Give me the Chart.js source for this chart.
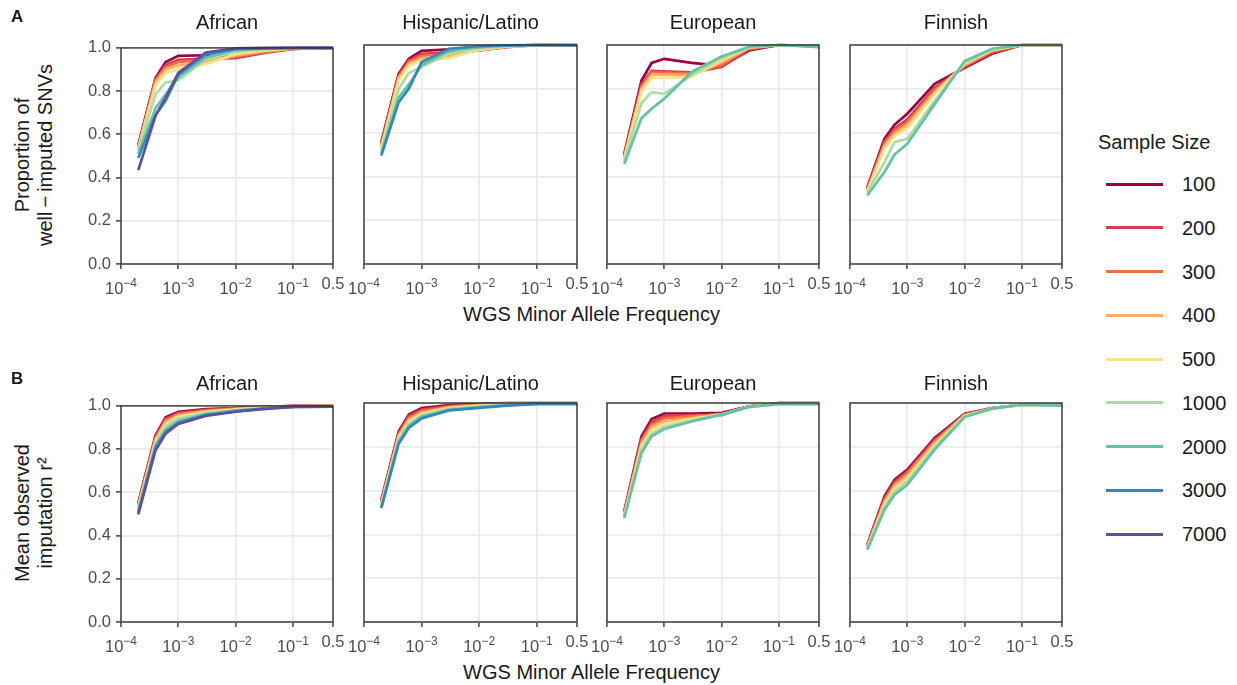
<!DOCTYPE html>
<html>
<head>
<meta charset="utf-8">
<script src="https://cdn.jsdelivr.net/npm/chart.js@4.4.1/dist/chart.umd.min.js"></script>
<style>
  body { margin: 0; background: #fff; font-family: "Liberation Sans", Arial, sans-serif; }
  #page { position: relative; width: 1237px; height: 685px; overflow: hidden; }
  canvas { position: absolute; }
  .txt { position: absolute; white-space: nowrap; color: #1a1a1a; font-size: 20px; line-height: 24px; }
  .mid { transform: translateX(-50%); }
  .ytitle { transform: translate(-50%, -50%) rotate(-90deg); text-align: center; line-height: 23px; }
  .tag { font-size: 17px; font-weight: bold; }
  .legline { position: absolute; height: 3px; width: 57px; }
</style>
</head>
<body>
<div id="page"></div>
<script>
// MAF bins (x) and sample sizes
const xMaf = [0.0002, 0.0004, 0.0006, 0.001, 0.003, 0.01, 0.03, 0.1, 0.5];
const sampleSizes = ['100', '200', '300', '400', '500', '1000', '2000', '3000', '7000'];
const sizeColors = ['#9E0142', '#D53E4F', '#F46D43', '#FDAE61', '#FEE08B', '#ABDDA4', '#66C2A5', '#3288BD', '#5E4FA2'];
const populations = ['African', 'Hispanic/Latino', 'European', 'Finnish'];
const xTickVals = [0.0001, 0.001, 0.01, 0.1, 0.5];
const xTickBase = ['10', '10', '10', '10', '0.5'];
const xTickExp = ['\u22124', '\u22123', '\u22122', '\u22121', ''];
const yTickVals = [0, 0.2, 0.4, 0.6, 0.8, 1];

// A: proportion of well-imputed SNVs (one row per sample size)
const propAfrican = [
  [0.55, 0.86, 0.935, 0.963, 0.966, 0.958, 0.98, 0.995, 1.0],
  [0.545, 0.855, 0.92, 0.945, 0.95, 0.952, 0.976, 0.995, 1.0],
  [0.54, 0.85, 0.91, 0.935, 0.945, 0.96, 0.98, 0.996, 1.0],
  [0.535, 0.84, 0.9, 0.92, 0.935, 0.965, 0.984, 0.997, 1.0],
  [0.53, 0.825, 0.885, 0.9, 0.925, 0.972, 0.988, 0.998, 1.0],
  [0.525, 0.785, 0.84, 0.85, 0.945, 0.983, 0.993, 0.999, 1.0],
  [0.51, 0.72, 0.785, 0.865, 0.955, 0.99, 0.996, 1.0, 1.0],
  [0.49, 0.69, 0.755, 0.876, 0.97, 0.995, 0.998, 1.0, 1.0],
  [0.434, 0.686, 0.77, 0.884, 0.979, 0.998, 1.0, 1.0, 1.0]
];
const propHispanic = [
  [0.557, 0.869, 0.937, 0.973, 0.98, 0.99, 0.996, 1.0, 1.0],
  [0.55, 0.86, 0.93, 0.96, 0.965, 0.975, 0.99, 0.999, 1.0],
  [0.54, 0.855, 0.922, 0.95, 0.958, 0.975, 0.991, 0.999, 1.0],
  [0.535, 0.848, 0.915, 0.94, 0.95, 0.977, 0.992, 0.999, 1.0],
  [0.53, 0.838, 0.905, 0.93, 0.94, 0.978, 0.993, 0.999, 1.0],
  [0.515, 0.8, 0.872, 0.9, 0.96, 0.985, 0.995, 1.0, 1.0],
  [0.505, 0.76, 0.82, 0.907, 0.975, 0.99, 0.997, 1.0, 1.0],
  [0.495, 0.739, 0.8, 0.922, 0.983, 0.995, 0.998, 1.0, 0.998]
];
const propEuropean = [
  [0.503, 0.838, 0.918, 0.937, 0.918, 0.905, 0.975, 1.0, 0.995],
  [0.495, 0.82, 0.882, 0.88, 0.875, 0.9, 0.98, 1.0, 0.995],
  [0.49, 0.81, 0.875, 0.873, 0.87, 0.91, 0.985, 1.0, 0.995],
  [0.485, 0.8, 0.865, 0.865, 0.862, 0.92, 0.987, 1.0, 0.995],
  [0.48, 0.79, 0.85, 0.85, 0.855, 0.93, 0.99, 1.0, 0.995],
  [0.47, 0.735, 0.785, 0.777, 0.862, 0.94, 0.99, 1.0, 0.993],
  [0.457, 0.666, 0.709, 0.755, 0.877, 0.948, 0.992, 1.0, 0.99]
];
const propFinnish = [
  [0.35, 0.572, 0.636, 0.686, 0.823, 0.896, 0.96, 1.0, 1.0],
  [0.345, 0.56, 0.618, 0.66, 0.805, 0.9, 0.965, 1.0, 1.0],
  [0.34, 0.55, 0.607, 0.648, 0.795, 0.905, 0.97, 1.0, 1.0],
  [0.335, 0.54, 0.595, 0.635, 0.785, 0.91, 0.975, 1.0, 1.0],
  [0.33, 0.528, 0.585, 0.62, 0.775, 0.915, 0.978, 1.0, 1.0],
  [0.325, 0.465, 0.556, 0.572, 0.745, 0.92, 0.98, 1.0, 1.0],
  [0.3125, 0.42, 0.5, 0.549, 0.73, 0.927, 0.983, 1.0, 1.0]
];

// B: mean observed imputation r2
const r2African = [
  [0.551, 0.863, 0.947, 0.973, 0.985, 0.99, 0.995, 1.0, 1.0],
  [0.545, 0.857, 0.94, 0.968, 0.982, 0.989, 0.995, 0.999, 1.0],
  [0.54, 0.85, 0.932, 0.962, 0.978, 0.987, 0.994, 0.999, 1.0],
  [0.535, 0.845, 0.925, 0.955, 0.975, 0.985, 0.993, 0.998, 0.999],
  [0.53, 0.835, 0.915, 0.95, 0.972, 0.983, 0.992, 0.998, 0.999],
  [0.52, 0.825, 0.905, 0.94, 0.967, 0.98, 0.99, 0.997, 0.998],
  [0.51, 0.815, 0.89, 0.93, 0.962, 0.978, 0.988, 0.996, 0.998],
  [0.505, 0.805, 0.88, 0.922, 0.958, 0.975, 0.987, 0.995, 0.997],
  [0.498, 0.795, 0.871, 0.916, 0.954, 0.973, 0.985, 0.995, 0.997]
];
const r2Hispanic = [
  [0.558, 0.87, 0.947, 0.977, 0.99, 0.995, 0.999, 1.0, 1.0],
  [0.553, 0.862, 0.94, 0.97, 0.986, 0.993, 0.998, 1.0, 1.0],
  [0.548, 0.856, 0.932, 0.963, 0.983, 0.991, 0.997, 1.0, 1.0],
  [0.543, 0.849, 0.924, 0.957, 0.98, 0.989, 0.996, 0.999, 1.0],
  [0.538, 0.842, 0.916, 0.951, 0.977, 0.987, 0.995, 0.999, 0.999],
  [0.532, 0.833, 0.905, 0.944, 0.973, 0.984, 0.993, 0.998, 0.998],
  [0.526, 0.823, 0.895, 0.937, 0.969, 0.981, 0.99, 0.997, 0.997],
  [0.52, 0.814, 0.886, 0.93, 0.966, 0.978, 0.988, 0.995, 0.995]
];
const r2European = [
  [0.505, 0.848, 0.927, 0.952, 0.952, 0.955, 0.985, 1.0, 1.0],
  [0.5, 0.835, 0.912, 0.94, 0.945, 0.945, 0.983, 0.999, 0.999],
  [0.495, 0.825, 0.9, 0.93, 0.94, 0.948, 0.984, 0.998, 0.998],
  [0.49, 0.815, 0.89, 0.915, 0.932, 0.948, 0.984, 0.997, 0.997],
  [0.485, 0.805, 0.875, 0.905, 0.926, 0.948, 0.983, 0.996, 0.996],
  [0.48, 0.79, 0.86, 0.892, 0.92, 0.947, 0.982, 0.995, 0.995],
  [0.475, 0.772, 0.848, 0.881, 0.916, 0.947, 0.982, 0.995, 0.995]
];
const r2Finnish = [
  [0.353, 0.574, 0.65, 0.696, 0.84, 0.951, 0.977, 0.992, 0.992],
  [0.349, 0.565, 0.64, 0.688, 0.832, 0.948, 0.976, 0.992, 0.991],
  [0.346, 0.557, 0.631, 0.679, 0.825, 0.946, 0.976, 0.992, 0.991],
  [0.342, 0.548, 0.621, 0.668, 0.817, 0.944, 0.975, 0.992, 0.99],
  [0.338, 0.538, 0.61, 0.657, 0.808, 0.941, 0.975, 0.992, 0.99],
  [0.334, 0.525, 0.595, 0.642, 0.797, 0.939, 0.974, 0.992, 0.989],
  [0.33, 0.513, 0.581, 0.627, 0.787, 0.936, 0.974, 0.992, 0.988]
];

// --- layout (pixel boxes of the plotting areas)
const rows = [
  { tag: 'A', tagY: 5, stripY: 10, top: 45, bottom: 264, sets: [propAfrican, propHispanic, propEuropean, propFinnish],
    ytitle: ['Proportion of', 'well\u2009\u2212\u2009imputed SNVs'] },
  { tag: 'B', tagY: 367, stripY: 371, top: 403, bottom: 622, sets: [r2African, r2Hispanic, r2European, r2Finnish],
    ytitle: ['Mean observed', 'imputation r²'] }
];
const cols = [[121, 333], [364, 577], [607, 819], [850, 1062]];
const AXW = 50, PADR = 18, PADT = 12, AXH = 36;
const FONT = '"Liberation Sans", Arial, sans-serif';
const TICKCOL = '#4D4D4D';

const page = document.getElementById('page');

function addText(cls, text, x, y) {
  const d = document.createElement('div');
  d.className = 'txt ' + cls;
  d.textContent = text;
  d.style.left = x + 'px';
  d.style.top = y + 'px';
  page.appendChild(d);
  return d;
}

// full panel border + x tick labels with superscript exponents
const panelBox = {
  id: 'panelBox',
  afterDraw(chart) {
    const a = chart.chartArea, ctx = chart.ctx, xs = chart.scales.x;
    ctx.save();
    ctx.strokeStyle = '#333333';
    ctx.lineWidth = 1.4;
    ctx.strokeRect(a.left, a.top, a.right - a.left, a.bottom - a.top);

    ctx.fillStyle = TICKCOL;
    ctx.textBaseline = 'alphabetic';
    ctx.textAlign = 'left';
    xTickVals.forEach((v, i) => {
      const px = xs.getPixelForValue(v);
      const base = xTickBase[i], exp = xTickExp[i];
      ctx.font = '16.5px ' + FONT;
      const bw = ctx.measureText(base).width;
      ctx.font = '12px ' + FONT;
      const ew = exp ? ctx.measureText(exp).width : 0;
      const x0 = px - (bw + ew) / 2;
      ctx.font = '16.5px ' + FONT;
      ctx.fillText(base, x0, a.bottom + (exp ? 30 : 24.5));
      if (exp) {
        ctx.font = '12px ' + FONT;
        ctx.fillText(exp, x0 + bw, a.bottom + 23);
      }
    });
    ctx.restore();
  }
};

function drawPanel(row, ci) {
  const [L, R] = cols[ci];
  const canvas = document.createElement('canvas');
  const w = (R - L) + AXW + PADR, h = (row.bottom - row.top) + PADT + AXH;
  canvas.width = w; canvas.height = h;
  canvas.style.left = (L - AXW) + 'px';
  canvas.style.top = (row.top - PADT) + 'px';
  canvas.style.width = w + 'px'; canvas.style.height = h + 'px';
  page.appendChild(canvas);

  const series = row.sets[ci];
  const datasets = series.map((vals, i) => ({
    label: sampleSizes[i],
    data: vals.map((v, k) => ({ x: xMaf[k], y: v })),
    borderColor: sizeColors[i],
    borderWidth: 2.7,
    pointRadius: 0,
    tension: 0,
    fill: false,
    clip: 4,
    order: sampleSizes.length - i
  }));
  const first = ci === 0;

  new Chart(canvas, {
    type: 'line',
    data: { datasets },
    options: {
      responsive: false,
      animation: false,
      devicePixelRatio: 1,
      layout: { padding: { left: 0, right: PADR, top: PADT, bottom: 0 } },
      plugins: { legend: { display: false }, tooltip: { enabled: false } },
      scales: {
        x: {
          type: 'logarithmic',
          min: 0.0001, max: 0.5,
          afterBuildTicks: s => { s.ticks = xTickVals.map(v => ({ value: v })); },
          afterFit: s => { s.height = AXH; },
          grid: { color: '#EBEBEB', lineWidth: 1.8, tickColor: '#333333', tickLength: 5, tickWidth: 1.4 },
          border: { display: false },
          ticks: { display: false }
        },
        y: {
          min: 0, max: 1,
          afterBuildTicks: s => { s.ticks = yTickVals.map(v => ({ value: v })); },
          afterFit: s => { s.width = AXW; },
          grid: { color: '#EBEBEB', lineWidth: 1.8, tickColor: '#333333', tickLength: first ? 5 : 0, tickWidth: 1.4, drawTicks: first },
          border: { display: false },
          ticks: {
            display: first, padding: 5,
            color: TICKCOL, font: { family: FONT, size: 16.5 },
            callback: v => v.toFixed(1)
          }
        }
      }
    },
    plugins: [panelBox]
  });

  addText('mid', populations[ci], (L + R) / 2, row.stripY);
}

rows.forEach(row => {
  cols.forEach((c, ci) => drawPanel(row, ci));
  addText('tag', row.tag, 11, row.tagY);
  addText('mid', 'WGS Minor Allele Frequency', (cols[0][0] + cols[3][1]) / 2, row.bottom + 38);
  const yt = addText('ytitle', '', 34, (row.top + row.bottom) / 2);
  yt.innerHTML = row.ytitle[0] + '<br>' + row.ytitle[1];
});

// legend
addText('', 'Sample Size', 1098, 130);
sampleSizes.forEach((s, i) => {
  const y = 184 + i * 43.75;
  const ln = document.createElement('div');
  ln.className = 'legline';
  ln.style.left = '1106px';
  ln.style.top = (y - 1.5) + 'px';
  ln.style.background = sizeColors[i];
  page.appendChild(ln);
  addText('', s, 1182, y - 12);
});
</script>
</body>
</html>
